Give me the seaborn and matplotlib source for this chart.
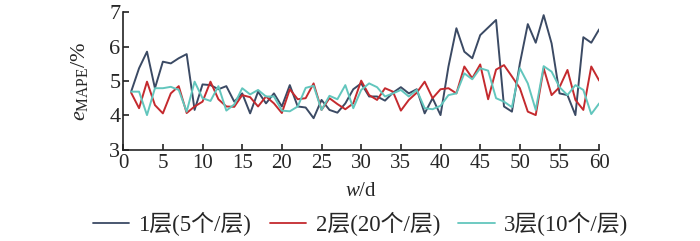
import numpy as np
import pandas as pd
import matplotlib
matplotlib.use("Agg")
import matplotlib.pyplot as plt
import seaborn as sns

days = list(range(1, 61))
layer1 = [4.69, 5.37, 5.85, 4.79, 5.56, 5.51, 5.66, 5.78, 4.16, 4.90,
          4.88, 4.76, 4.85, 4.40, 4.64, 4.06, 4.69, 4.35, 4.64, 4.26,
          4.88, 4.26, 4.23, 3.92, 4.45, 4.16, 4.08, 4.35, 4.76, 4.93,
          4.55, 4.55, 4.43, 4.66, 4.82, 4.64, 4.76, 4.06, 4.50, 4.01,
          5.42, 6.53, 5.85, 5.66, 6.33, 6.55, 6.77, 4.26, 4.11, 5.51,
          6.65, 6.11, 6.91, 6.09, 4.64, 4.59, 4.01, 6.27, 6.11, 6.50]
layer2 = [4.66, 4.21, 4.98, 4.30, 4.06, 4.64, 4.85, 4.07, 4.26, 4.40,
          4.98, 4.47, 4.26, 4.25, 4.59, 4.53, 4.26, 4.55, 4.35, 4.07,
          4.76, 4.47, 4.50, 4.93, 4.16, 4.50, 4.33, 4.18, 4.35, 5.01,
          4.59, 4.45, 4.79, 4.69, 4.14, 4.45, 4.66, 4.98, 4.50, 4.76,
          4.79, 4.64, 5.42, 5.08, 5.48, 4.47, 5.33, 5.46, 5.13, 4.79,
          4.11, 4.01, 5.37, 4.59, 4.82, 5.32, 4.45, 4.16, 5.42, 5.01]
layer3 = [4.69, 4.69, 4.01, 4.79, 4.79, 4.83, 4.74, 4.11, 4.98, 4.50,
          4.42, 4.85, 4.14, 4.32, 4.79, 4.61, 4.74, 4.55, 4.55, 4.14,
          4.12, 4.26, 4.80, 4.86, 4.16, 4.57, 4.47, 4.88, 4.21, 4.74,
          4.93, 4.82, 4.55, 4.64, 4.74, 4.55, 4.74, 4.21, 4.18, 4.28,
          4.59, 4.64, 5.22, 5.05, 5.37, 5.30, 4.50, 4.40, 4.24, 5.37,
          4.93, 4.16, 5.43, 5.27, 4.82, 4.59, 4.88, 4.74, 4.04, 4.35]
series_names = ["1层(5个/层)", "2层(20个/层)", "3层(10个/层)"]
colors = ["#3b4a64", "#c42a2e", "#62c6bd"]
x_ticks = list(range(0, 61, 5))
y_ticks = [3, 4, 5, 6, 7]

df = pd.DataFrame({
    "w": days * 3,
    "e": layer1 + layer2 + layer3,
    "s": [series_names[0]] * 60 + [series_names[1]] * 60 + [series_names[2]] * 60,
})

sns.set_style("ticks")
plt.rcParams["font.family"] = ["Liberation Serif", "Noto Sans CJK SC"]
plt.rcParams["mathtext.fontset"] = "custom"
plt.rcParams["mathtext.rm"] = "Liberation Serif"
plt.rcParams["mathtext.it"] = "Liberation Serif:italic"

fig = plt.figure(figsize=(7.0, 2.41), dpi=100)
ax = fig.add_axes([0.176, 0.378, 0.68, 0.572])
sns.lineplot(data=df, x="w", y="e", hue="s", palette=colors, linewidth=1.4,
             ax=ax, legend=True)

ax.set_xlim(0, 60)
ax.set_ylim(3, 7)
ax.set_xticks(x_ticks)
ax.set_yticks(y_ticks)
sns.despine(ax=ax)
for sp in ["left", "bottom"]:
    ax.spines[sp].set_linewidth(1.2)
    ax.spines[sp].set_color("#222222")
ax.tick_params(axis="both", direction="in", length=4, width=1.2, color="#222222")
ax.tick_params(axis="x", labelsize=15, pad=3)
ax.tick_params(axis="y", labelsize=16, pad=2)
ax.set_xlabel(r"$\it{w}$/d", fontsize=15)
ax.set_ylabel(r"$\it{e}_{\rm MAPE}$/%", fontsize=16)
ax.xaxis.set_label_coords(0.5, -0.23)
ax.yaxis.set_label_coords(-0.07, 0.5)

h, l = ax.get_legend_handles_labels()
for hd in h:
    hd.set_linewidth(1.3)
ax.get_legend().remove()
fig.legend(h, l, loc="center", bbox_to_anchor=(0.515, 0.072), ncol=3,
           frameon=False, fontsize=16.5, handlelength=1.6, columnspacing=0.8,
           handletextpad=0.4, borderaxespad=0, borderpad=0)

fig.savefig("out.png", dpi=100)
